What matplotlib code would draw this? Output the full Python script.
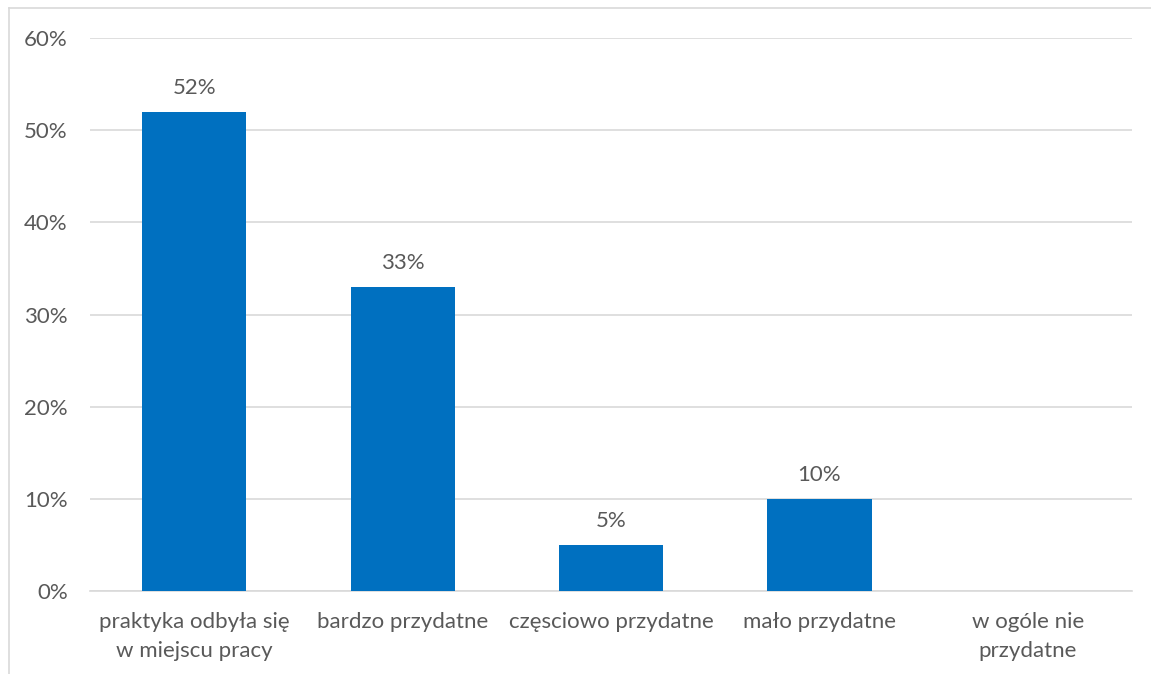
import numpy as np
import matplotlib.pyplot as plt
from matplotlib.lines import Line2D
from matplotlib.ticker import FuncFormatter

categories = ["praktyka odbyła się\nw miejscu pracy", "bardzo przydatne",
              "częsciowo przydatne", "mało przydatne", "w ogóle nie\nprzydatne"]
values = [52, 33, 5, 10, 0]
yticks = [0, 10, 20, 30, 40, 50, 60]

plt.rcParams['font.family'] = ['Lato', 'DejaVu Sans']
text_color = '#595959'

fig = plt.figure(figsize=(11.51, 6.74), dpi=100)
ax = fig.add_axes([0.0782, 0.1231, 0.9053, 0.8205])

x = np.arange(len(categories))
ax.bar(x, values, width=0.5, color='#0070C0', zorder=3)

for xi, v in zip(x, values):
    if v > 0:
        ax.annotate(f"{v}%", (xi, v), xytext=(0, 10), textcoords='offset points',
                    ha='center', va='bottom', fontsize=16, color=text_color)

ax.set_xlim(-0.5, len(categories) - 0.5)
ax.set_ylim(0, 60)
ax.set_yticks(yticks)
ax.yaxis.set_major_formatter(FuncFormatter(lambda v, p: f"{int(v)}%"))
ax.set_xticks(x)
ax.set_xticklabels(categories, linespacing=1.6)
ax.tick_params(axis='both', length=0, labelsize=16, labelcolor=text_color)
ax.tick_params(axis='x', pad=15)
ax.tick_params(axis='y', pad=16)
ax.grid(axis='y', color='#D9D9D9', linewidth=1.2, zorder=0)
for s in ['top', 'right', 'left']:
    ax.spines[s].set_visible(False)
ax.spines['bottom'].set_color('#D9D9D9')
ax.spines['bottom'].set_linewidth(1.2)

# border of the chart area (only top and left visible)
fig.add_artist(Line2D([0.0078, 1], [0.988, 0.988], color='#D9D9D9', linewidth=1.2))
fig.add_artist(Line2D([0.0078, 0.0078], [0, 0.988], color='#D9D9D9', linewidth=1.2))

fig.savefig('out.png', dpi=100)
